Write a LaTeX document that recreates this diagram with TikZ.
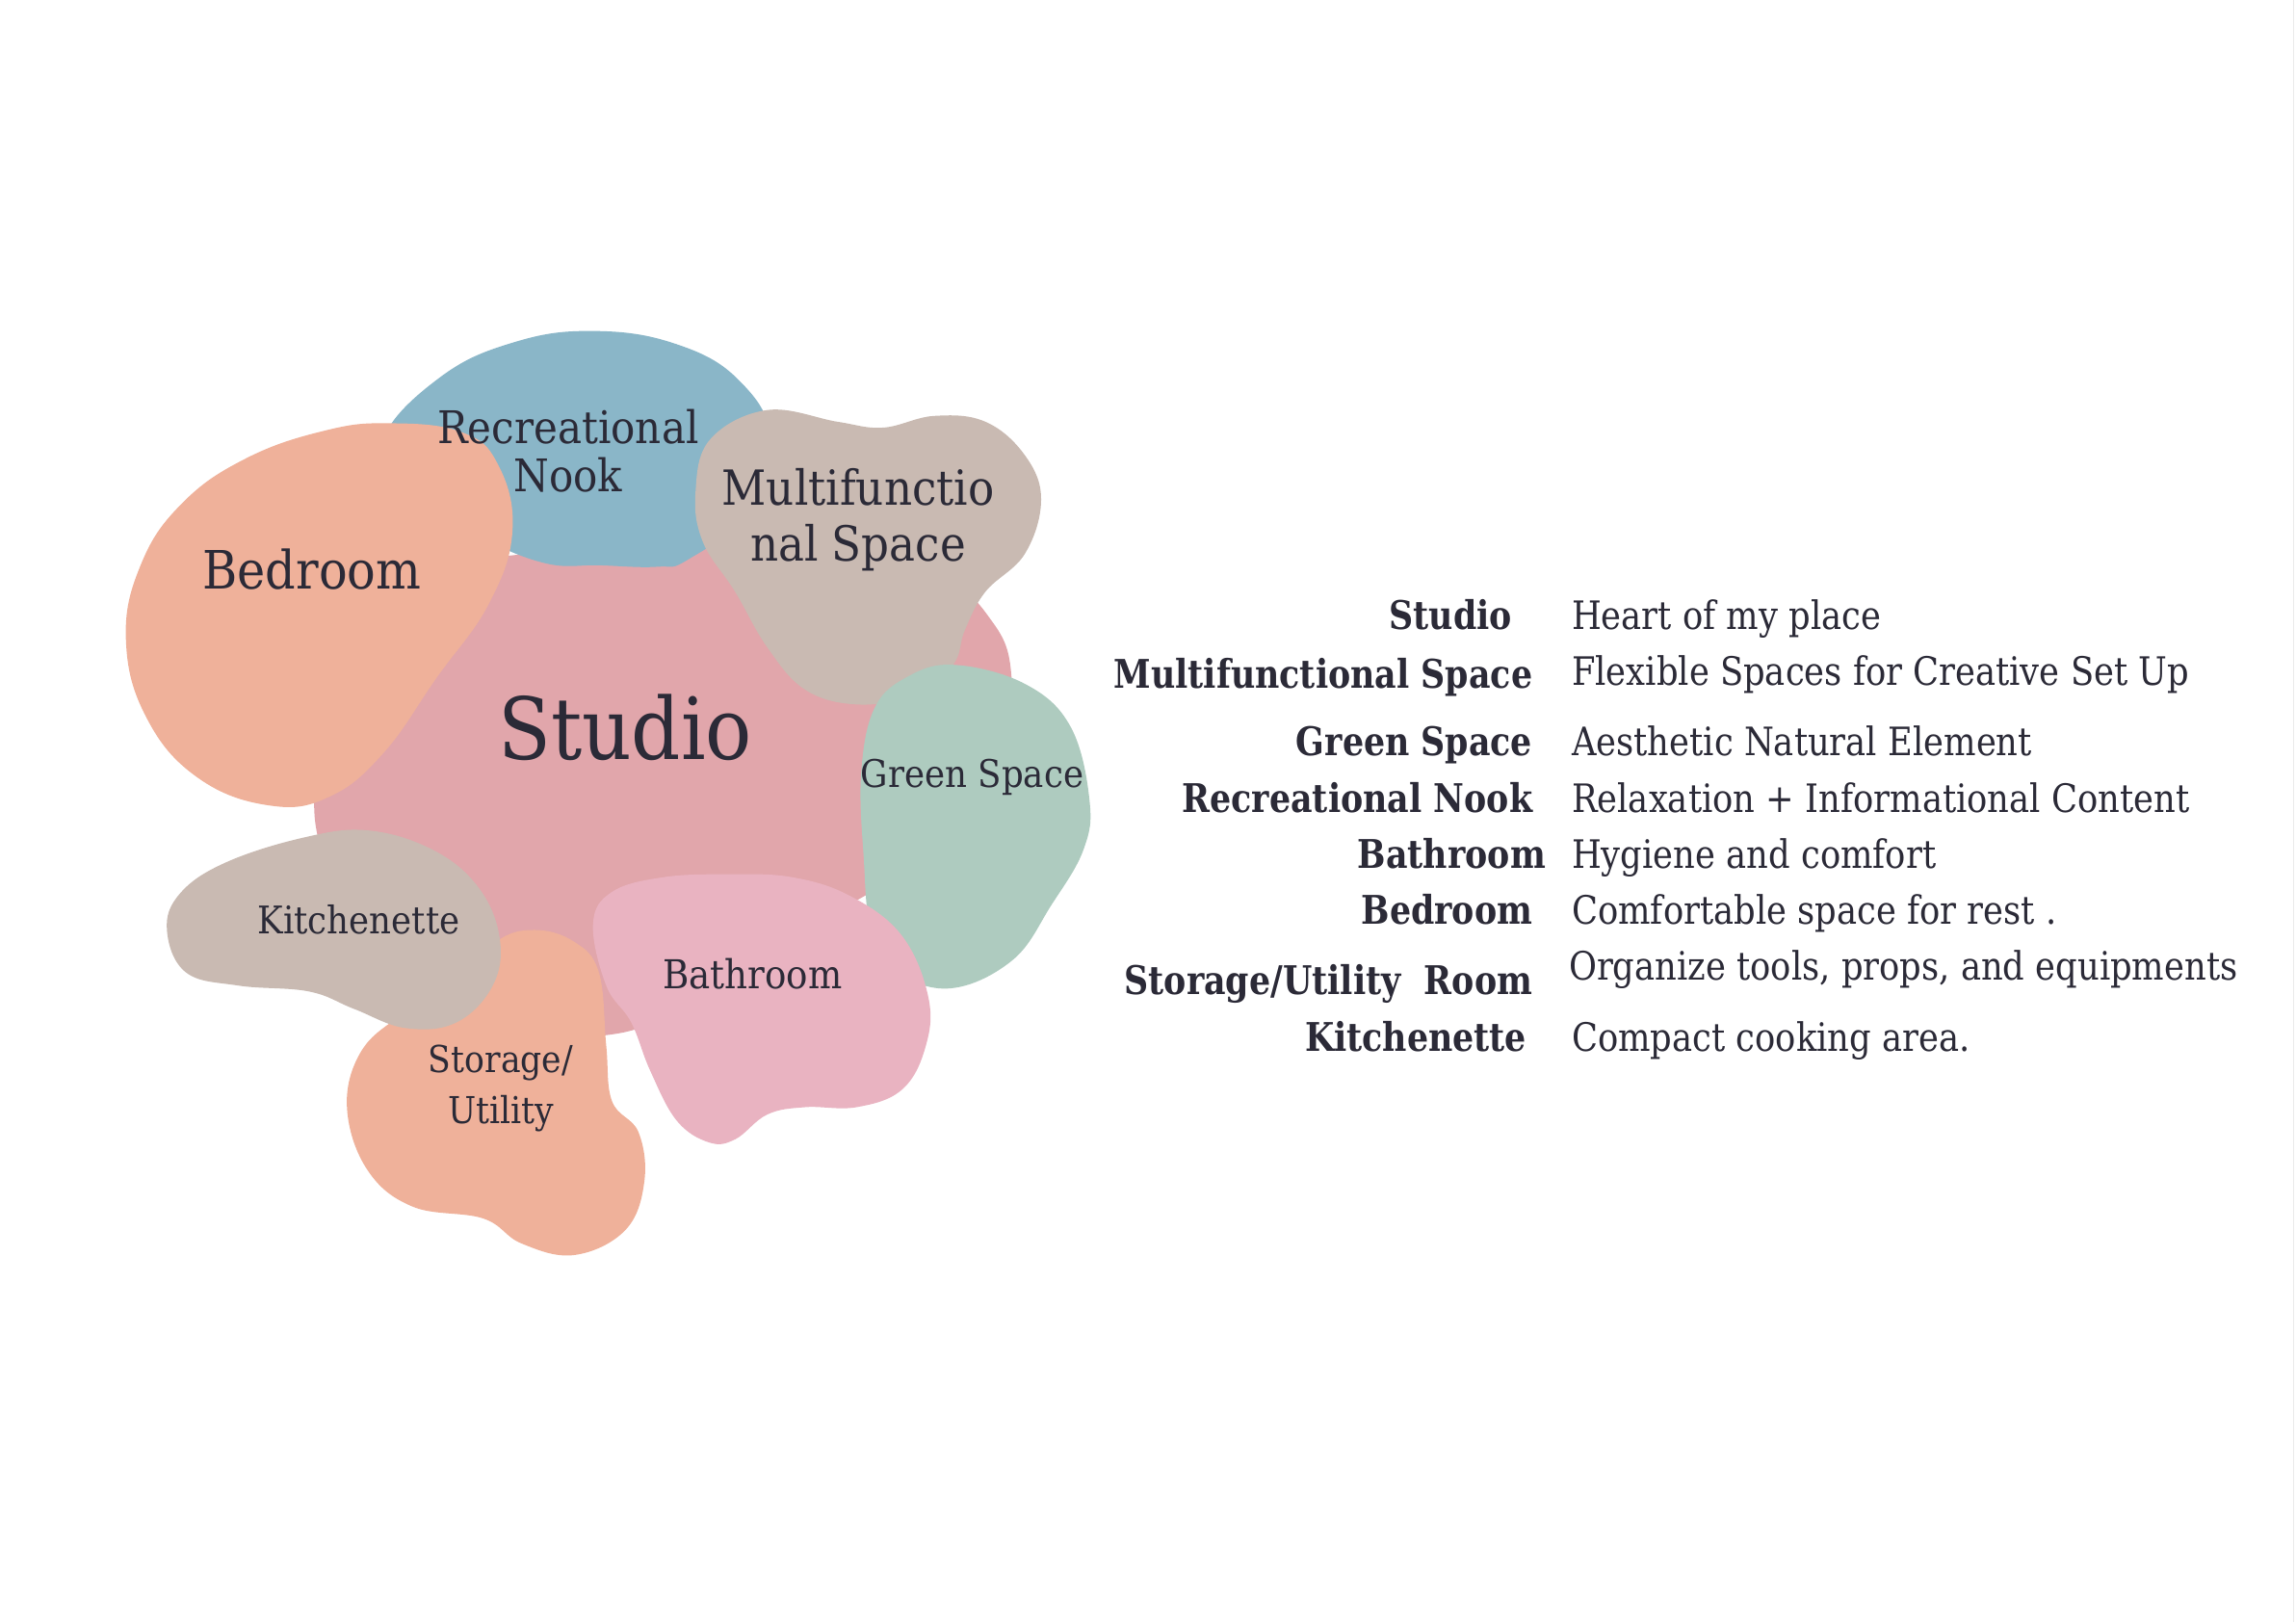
\documentclass[tikz,border=0pt]{standalone}
\usepackage{fontspec}
\setmainfont[FakeStretch=0.9]{DejaVu Serif}
\newfontfamily\boldlbl[FakeStretch=0.85]{DejaVu Serif}
\newfontfamily\desclbl[FakeStretch=0.87]{DejaVu Serif}
\begin{document}
\begin{tikzpicture}[x=0.15mm,y=-0.15mm]
\definecolor{txt}{RGB}{43,42,55}
\definecolor{studioc}{RGB}{225,166,171}
\definecolor{bluec}{RGB}{138,182,200}
\definecolor{salmonc}{RGB}{239,177,154}
\definecolor{taupec}{RGB}{201,186,178}
\definecolor{greenc}{RGB}{174,203,191}
\definecolor{bathc}{RGB}{233,179,193}
\tikzset{
  blob/.style={fill=#1, draw=none},
  lbl/.style={text=txt, align=center, inner sep=0pt, font=\fontsize{#1}{#1}\selectfont},
  lbl/.default=11,
  rowkey/.style={text=txt, anchor=base east, inner sep=0pt, font=\boldlbl\bfseries\fontsize{11.5}{13}\selectfont},
  rowval/.style={text=txt, anchor=base west, inner sep=0pt, font=\desclbl\fontsize{11.4}{13}\selectfont}
}
\useasboundingbox (0,0) rectangle (1568,1107.6);
\fill[white] (0,0) rectangle (1568,1107.6);
\draw[black!8, line width=0.3pt] (1566.5,0) -- (1566.5,1107.6);

% Studio
\fill[blob=studioc] plot[smooth cycle, tension=0.7] coordinates {
 (217,520) (240,440) (300,392) (380,376) (470,372) (560,385) (640,395)
 (678,425) (691,465) (685,520) (645,578) (590,612) (530,645) (470,685)
 (420,706) (370,700) (310,662) (250,622) (220,582)};
% Recreational Nook
\fill[blob=bluec] plot[smooth cycle, tension=0.7] coordinates {
 (262,300) (300,258) (350,234) (405,226) (462,235) (505,260) (526,300)
 (510,350) (470,382) (449,387) (410,386) (370,384) (320,362) (278,332)};
% Bedroom
\fill[blob=salmonc] plot[smooth cycle, tension=0.7] coordinates {
 (86,437) (96,386) (124,344) (168,313) (222,294) (266,289) (315,295) (340,317)
 (350,362) (334,412) (298,463) (262,514) (225,544) (184,550) (135,531) (100,490)};
% Multifunctional Space
\fill[blob=taupec] plot[smooth cycle, tension=0.65] coordinates {
 (485,300) (524,280) (572,288) (603,292) (638,284) (673,288) (700,311)
 (711,341) (700,378) (673,404) (659,430) (650,455) (620,475) (585,481)
 (550,471) (524,442) (502,404) (480,370) (475,336)};
% Green Space
\fill[blob=greenc] plot[smooth cycle, tension=0.65] coordinates {
 (652,454) (700,467) (731,496) (744,546) (740,580) (718,618) (691,656)
 (647,675) (607,660) (594,631) (590,588) (588,530) (597,484) (620,462)};
% Bathroom
\fill[blob=bathc] plot[smooth cycle, tension=0.65] coordinates {
 (405,631) (418,609) (453,599) (497,597) (541,599) (581,612) (616,639)
 (634,681) (632,715) (616,744) (585,756) (550,756) (524,761) (502,778)
 (484,780) (462,765) (444,731) (431,698) (414,673)};
% Storage / Utility
\fill[blob=salmonc] plot[smooth cycle, tension=0.65] coordinates {
 (365,635) (392,643) (409,664) (414,714) (418,752) (436,773) (440,807)
 (427,840) (392,857) (356,849) (330,832) (282,824) (251,799) (237,757)
 (246,719) (273,694) (312,673) (339,643)};
% Kitchenette
\fill[blob=taupec] plot[smooth cycle, tension=0.65] coordinates {
 (114,635) (123,610) (154,589) (207,572) (251,567) (295,580) (326,605)
 (341,639) (337,672) (312,698) (277,702) (242,689) (211,677) (163,673) (127,664)};

% Blob labels
\node[lbl=13.1] (recnook) at (388,308) {Recreational\\[1pt]Nook};
\node[lbl=14.1] (multi) at (586,355) {Multifunctio\\[2pt]nal Space};
\node[lbl=15.4] (bed) at (213,389) {Bedroom};
\node[lbl=25] (studio) at (427,497) {Studio};
\node[lbl=11.1] (green) at (664,531) {Green Space};
\node[lbl=11.1] (kitch) at (245,628) {Kitchenette};
\node[lbl=11.6] (bath) at (514,665) {Bathroom};
\node[lbl=10.8] (stor) at (342,743) {Storage/\\[4pt]Utility};

% Legend table
\node[rowkey] (k1) at (1033,430) {Studio};
\node[rowval] (v1) at (1073,430) {Heart of my place};
\node[rowkey] (k2) at (1047,470) {Multifunctional Space};
\node[rowval] (v2) at (1073,468) {Flexible Spaces for Creative Set Up};
\node[rowkey] (k3) at (1047,516) {Green Space};
\node[rowval] (v3) at (1073,516) {Aesthetic Natural Element};
\node[rowkey] (k4) at (1047,555) {Recreational Nook};
\node[rowval] (v4) at (1073,555) {Relaxation + Informational Content};
\node[rowkey] (k5) at (1056,593) {Bathroom};
\node[rowval] (v5) at (1073,593) {Hygiene and comfort};
\node[rowkey] (k6) at (1047,631) {Bedroom};
\node[rowval] (v6) at (1073,631) {Comfortable space for rest .};
\node[rowkey] (k7) at (1047,679) {Storage/Utility\ \ Room};
\node[rowval] (v7) at (1071,669) {Organize tools, props, and equipments};
\node[rowkey] (k8) at (1043,718) {Kitchenette};
\node[rowval] (v8) at (1073,718) {Compact cooking area.};
\end{tikzpicture}
\end{document}
